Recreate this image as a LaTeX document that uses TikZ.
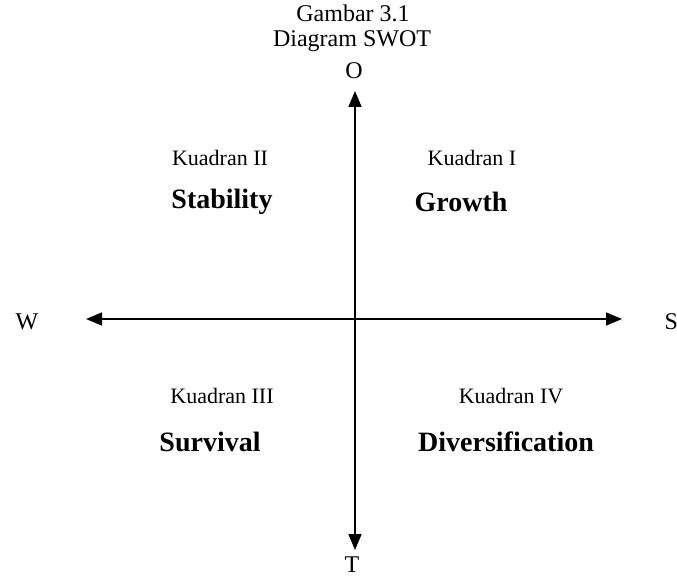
\documentclass[tikz,border=0pt]{standalone}
\usepackage{fontspec}
\setmainfont{Liberation Serif}
\usetikzlibrary{arrows.meta}
\begin{document}
\begin{tikzpicture}[x=1pt,y=-1pt,
  title/.style={font=\fontsize{24}{26}\selectfont},
  axislabel/.style={font=\fontsize{24}{26}\selectfont},
  quad/.style={font=\fontsize{22}{24}\selectfont},
  strat/.style={font=\fontsize{28}{30}\selectfont\bfseries},
  axis/.style={line width=1.6pt,-{Triangle[length=16pt,width=13pt]}}]
\useasboundingbox (0,0) rectangle (677,577);
\node[title] (g) at (353,13) {Gambar 3.1};
\node[title] (d) at (352,41) {Diagram SWOT};
\node[axislabel] (o) at (354,71) {O};
\node[axislabel] (t) at (352,565) {T};
\node[axislabel] (w) at (27,322) {W};
\node[axislabel,anchor=west] (s) at (661,322) {S};
\coordinate (c) at (355,319);
\coordinate (top) at (355,91);
\coordinate (bot) at (355,550);
\coordinate (left) at (86,319);
\coordinate (right) at (622,319);
\draw[axis] (c) -- (top);
\draw[axis] (c) -- (bot);
\draw[axis] (c) -- (left);
\draw[axis] (c) -- (right);
\node[quad] (k2) at (220,158) {Kuadran II};
\node[quad] (k1) at (472,158) {Kuadran I};
\node[quad] (k3) at (222,396) {Kuadran III};
\node[quad] (k4) at (511,396) {Kuadran IV};
\node[strat] (st) at (222,202) {Stability};
\node[strat] (gr) at (461,202) {Growth};
\node[strat] (su) at (210,442) {Survival};
\node[strat] (di) at (506,442) {Diversification};
\end{tikzpicture}
\end{document}
